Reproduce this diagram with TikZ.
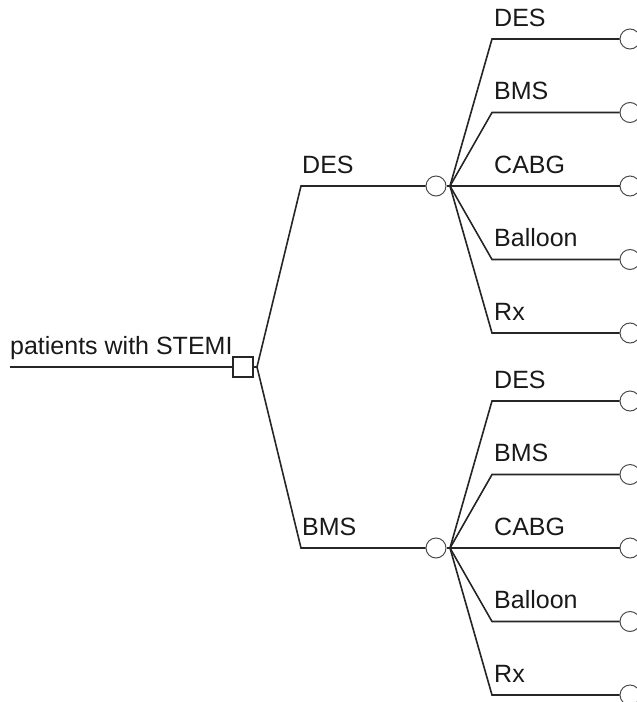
\documentclass[tikz,border=0pt]{standalone}
\usepackage{fontspec}
\setmainfont{Liberation Sans}
\begin{document}
\begin{tikzpicture}[x=1pt,y=-1pt,
  conn/.style={draw=black!85, line width=1.6pt},
  chance/.style={circle, draw=black!70, line width=1pt, minimum size=20pt, inner sep=0pt, fill=white},
  decision/.style={rectangle, draw=black!85, line width=1.4pt, minimum size=20pt, inner sep=0pt, fill=white},
  lbl/.style={anchor=base west, inner sep=0pt, text=black!90, font=\fontsize{25}{29}\selectfont}]
\useasboundingbox (0,0) rectangle (637,702);
% root
\coordinate (start) at (10,367);
\node[decision] (root) at (243,367) {};
\coordinate (rootout) at (257,367);
\node[lbl] (rootlbl) at (10,354) {patients with STEMI};
\draw[conn] (start) -- (root.west);
\draw[conn] (root.east) -- (rootout);
% first level
\coordinate (cU) at (301,186);
\coordinate (cL) at (301,548);
\node[chance] (nU) at (436,186) {};
\node[chance] (nL) at (436,548) {};
\coordinate (fU) at (450,186);
\coordinate (fL) at (450,548);
\draw[conn] (rootout) -- (cU) -- (nU.west);
\draw[conn] (rootout) -- (cL) -- (nL.west);
\draw[conn] (nU.east) -- (fU);
\draw[conn] (nL.east) -- (fL);
\node[lbl] (lU) at (302,173) {DES};
\node[lbl] (lL) at (302,535) {BMS};
% second level
\foreach \t [count=\i from 0] in {DES,BMS,CABG,Balloon,Rx}{
  \coordinate (kU\i) at (492,{39+73.5*\i});
  \coordinate (kL\i) at (492,{401+73.5*\i});
  \node[chance] (eU\i) at (630,{39+73.5*\i}) {};
  \node[chance] (eL\i) at (630,{401+73.5*\i}) {};
  \draw[conn] (fU) -- (kU\i) -- (eU\i.west);
  \draw[conn] (fL) -- (kL\i) -- (eL\i.west);
  \node[lbl] (tU\i) at (494,{26+73.5*\i}) {\t};
  \node[lbl] (tL\i) at (494,{388+73.5*\i}) {\t};
}
\end{tikzpicture}
\end{document}
